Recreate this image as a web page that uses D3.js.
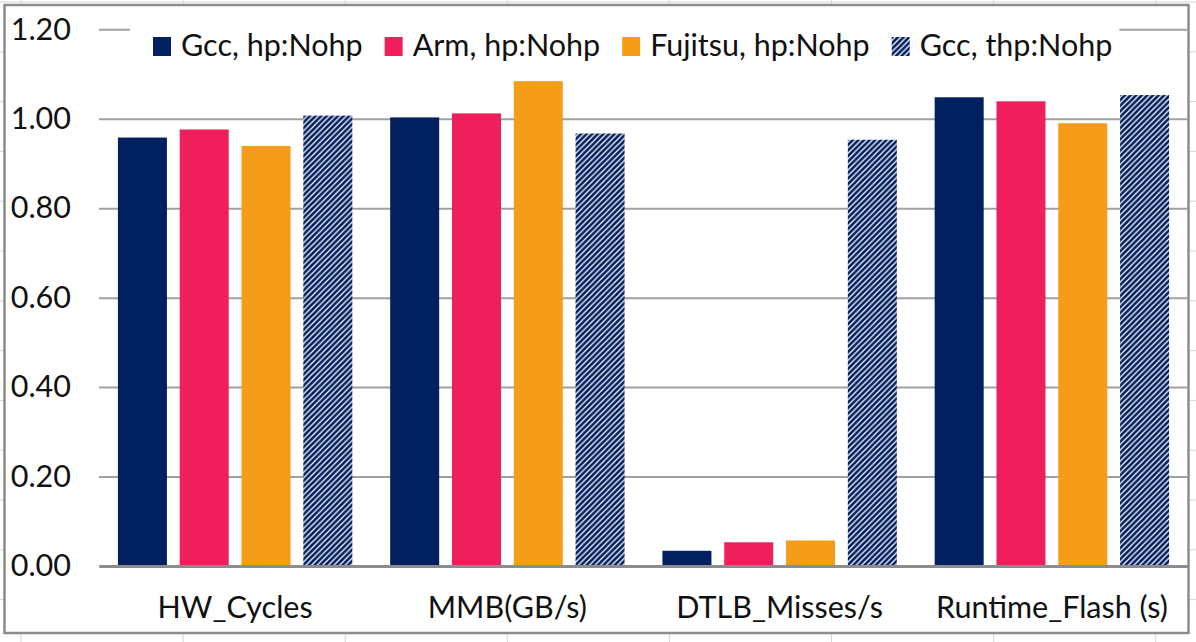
<!DOCTYPE html>
<html>
<head>
<meta charset="utf-8">
<script src="https://cdn.jsdelivr.net/npm/d3@7"></script>
<style>
  body { margin: 0; background: #fff; }
  svg { display: block; font-family: Lato, "Open Sans", sans-serif; }
</style>
</head>
<body>
<div id="chart_div"></div>
<script>
// data
const categories = ["HW_Cycles", "MMB(GB/s)", "DTLB_Misses/s", "Runtime_Flash (s)"];
const seriesNames = ["Gcc, hp:Nohp", "Arm, hp:Nohp", "Fujitsu, hp:Nohp", "Gcc, thp:Nohp"];
const gccHp = [0.958, 1.003, 0.034, 1.048];
const armHp = [0.976, 1.012, 0.053, 1.039];
const fujitsuHp = [0.939, 1.084, 0.057, 0.990];
const gccThp = [1.007, 0.967, 0.953, 1.053];
const yTicks = [0, 0.2, 0.4, 0.6, 0.8, 1.0, 1.2];

const seriesValues = [gccHp, armHp, fujitsuHp, gccThp];
const fills = ["#00205f", "#ef1f5d", "#f59c18", "url(#hatch)"];

const W = 1196, H = 642;
const plot = { left: 99, right: 1188, top: 29.3, bottom: 566 };
const fontSize = 30.5;

const svg = d3.select("#chart_div").append("svg")
  .attr("width", W)
  .attr("height", H);

// hatch pattern for the thp series
const defs = svg.append("defs");
const pat = defs.append("pattern")
  .attr("id", "hatch")
  .attr("patternUnits", "userSpaceOnUse")
  .attr("width", 5.6)
  .attr("height", 5.6);
pat.append("rect").attr("width", 5.6).attr("height", 5.6).attr("fill", "#fff");
pat.append("path")
  .attr("d", "M0,5.6 L5.6,0 M-1.4,1.4 L1.4,-1.4 M4.2,7 L7,4.2")
  .attr("stroke", "#00205f")
  .attr("stroke-width", 2.7);

// spreadsheet cells behind the chart
const cells = svg.append("g").attr("stroke", "#d6d6d6").attr("stroke-width", 1);
d3.range(21, W, 162.1).forEach(x => {
  cells.append("line").attr("x1", x).attr("x2", x).attr("y1", 0).attr("y2", H);
});
d3.range(2, H, 49.8).forEach(y => {
  cells.append("line").attr("x1", 0).attr("x2", W).attr("y1", y).attr("y2", y);
});

// chart frame
svg.append("rect")
  .attr("x", 4.5).attr("y", 5)
  .attr("width", 1184).attr("height", 628)
  .attr("fill", "#fff")
  .attr("stroke", "#8c8c8c")
  .attr("stroke-width", 2.5);

// scales
const x0 = d3.scaleBand()
  .domain(categories)
  .range([plot.left, plot.right])
  .paddingInner(0.139)
  .paddingOuter(0.0695);

const x1 = d3.scaleBand()
  .domain(seriesNames)
  .range([0, x0.bandwidth()])
  .paddingInner(0.207);

const y = d3.scaleLinear()
  .domain([0, 1.2])
  .range([plot.bottom, plot.top]);

// Y axis with gridlines
const yAxis = svg.append("g")
  .attr("transform", "translate(" + plot.left + ",0)")
  .call(d3.axisLeft(y)
    .tickValues(yTicks)
    .tickSize(-(plot.right - plot.left))
    .tickPadding(28)
    .tickFormat(d3.format(".2f")));
yAxis.select(".domain").remove();
yAxis.selectAll(".tick line")
  .attr("stroke", "#a0a0a0")
  .attr("stroke-width", 2);
yAxis.selectAll(".tick text")
  .attr("fill", "#111")
  .attr("font-size", fontSize)
  .attr("font-family", "Lato, sans-serif");

// bars
const groups = svg.append("g")
  .selectAll("g")
  .data(categories)
  .enter()
  .append("g")
  .attr("transform", d => "translate(" + x0(d) + ",0)");

groups.selectAll("rect")
  .data((c, ci) => seriesNames.map((s, si) => ({ s: s, si: si, v: seriesValues[si][ci] })))
  .enter()
  .append("rect")
  .attr("x", d => x1(d.s))
  .attr("width", x1.bandwidth())
  .attr("y", d => y(d.v))
  .attr("height", d => y(0) - y(d.v))
  .attr("fill", d => fills[d.si]);

// X axis
const xAxis = svg.append("g")
  .attr("transform", "translate(0," + plot.bottom + ")")
  .call(d3.axisBottom(x0).tickSize(0).tickPadding(30.3));
xAxis.select(".domain")
  .attr("stroke", "#8c8c8c")
  .attr("stroke-width", 3);
xAxis.selectAll(".tick text")
  .attr("fill", "#111")
  .attr("font-size", fontSize)
  .attr("font-family", "Lato, sans-serif");

// legend
const legend = svg.append("g");
const legendBg = legend.append("rect").attr("fill", "#fff");
let lx = 153;
seriesNames.forEach((name, i) => {
  const g = legend.append("g");
  g.append("rect")
    .attr("x", lx).attr("y", 37)
    .attr("width", 18).attr("height", 19)
    .attr("fill", fills[i]);
  const t = g.append("text")
    .attr("x", lx + 28)
    .attr("y", 55.5)
    .attr("font-size", fontSize)
    .attr("fill", "#111")
    .text(name);
  const tw = t.node().getComputedTextLength();
  lx += 28 + tw + 22;
});
legendBg
  .attr("x", 130).attr("y", 20)
  .attr("width", lx - 22 + 7 - 130).attr("height", 45);
</script>
</body>
</html>
